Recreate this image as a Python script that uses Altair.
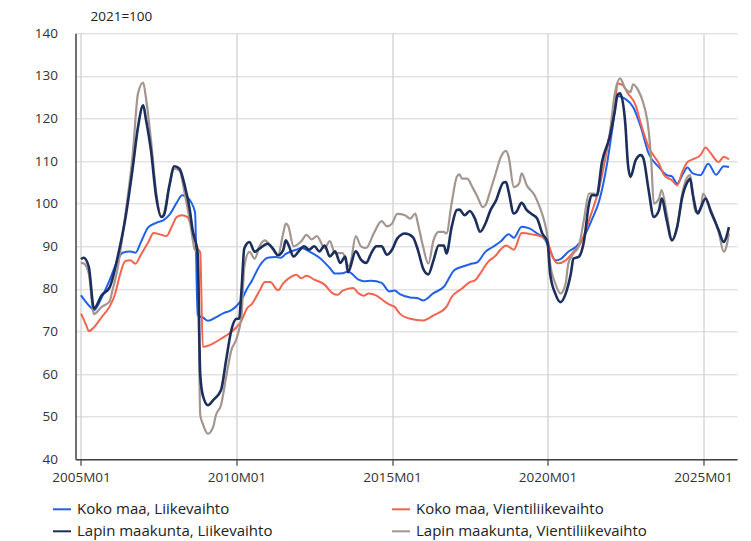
import altair as alt
import pandas as pd

# x = months since 2005M01
series_names = [
    "Koko maa, Liikevaihto",
    "Koko maa, Vientiliikevaihto",
    "Lapin maakunta, Liikevaihto",
    "Lapin maakunta, Vientiliikevaihto",
]
series_colors = ["#2160e8", "#f2644e", "#1c2e5c", "#a3958f"]

kl_month = [0, 4, 5, 8, 11, 14, 16, 19, 21, 23, 26, 29, 32, 34, 37, 39, 41, 44, 45, 47, 49, 52, 55, 58, 60,
            62, 64, 66, 69, 72, 75, 77, 79, 83, 85, 88, 92, 96, 98, 101, 103, 107, 109, 112, 116, 119, 121,
            123, 127, 130, 132, 136, 140, 144, 147, 150, 153, 156, 159, 162, 165, 167, 170, 173, 176, 179,
            181, 183, 185, 188, 191, 194, 197, 200, 203, 205, 207, 210, 213, 216, 219, 223, 226, 228, 230,
            232, 234, 236, 239, 242, 245, 248, 250]
kl_value = [78.5, 75.5, 75.0, 78.0, 82.0, 86.5, 88.5, 88.8, 88.5, 90.8, 94.5, 95.5, 96.2, 97.3, 100.3, 102.0,
            101.5, 98.0, 73.8, 73.3, 72.5, 73.3, 74.3, 75.0, 76.0, 77.5, 80.0, 82.0, 85.5, 87.3, 87.5, 87.3,
            88.2, 89.2, 89.6, 88.8, 87.3, 84.9, 83.6, 83.7, 84.1, 82.2, 81.8, 81.9, 81.4, 79.4, 79.6, 78.8,
            78.0, 77.8, 77.3, 79.0, 80.5, 84.4, 85.2, 85.8, 86.3, 88.7, 89.9, 91.2, 92.8, 92.0, 94.6, 94.2,
            93.0, 91.6, 89.0, 86.7, 87.0, 88.7, 89.9, 92.2, 96.1, 100.8, 109.5, 117.5, 125.3, 124.6, 122.7,
            118.0, 111.8, 108.6, 106.7, 106.4, 104.7, 106.7, 108.5, 107.1, 106.7, 109.4, 106.8, 108.8, 108.6]

kv_month = [0, 2, 3, 5, 8, 11, 13, 15, 17, 19, 21, 23, 26, 28, 31, 33, 35, 37, 39, 41, 43, 45, 46, 47, 51,
            54, 58, 60, 62, 64, 66, 69, 71, 73, 76, 78, 81, 83, 85, 87, 90, 94, 97, 99, 101, 105, 107, 109,
            111, 114, 117, 119, 121, 123, 127, 132, 136, 141, 143, 147, 150, 152, 154, 157, 160, 162, 164,
            167, 170, 174, 178, 180, 182, 184, 187, 190, 193, 196, 200, 204, 206, 207, 209, 211, 214, 216,
            219, 223, 225, 228, 230, 232, 234, 236, 239, 241, 243, 246, 248, 250]
kv_value = [74.2, 71.5, 70.1, 71.0, 73.4, 75.8, 78.5, 83.2, 86.5, 86.7, 85.9, 87.9, 91.0, 93.1, 92.7, 92.4,
            94.6, 96.9, 97.3, 96.9, 93.8, 89.5, 88.5, 66.4, 67.2, 68.3, 69.9, 71.0, 72.6, 75.4, 76.5, 79.7,
            81.6, 81.6, 79.7, 81.3, 82.8, 83.3, 82.5, 83.1, 82.2, 81.0, 79.0, 78.6, 79.6, 80.2, 79.0, 78.4,
            78.9, 78.4, 77.1, 76.3, 75.8, 74.2, 73.0, 72.6, 73.8, 75.8, 78.1, 80.1, 81.6, 82.0, 83.6, 86.3,
            87.8, 89.3, 90.2, 89.2, 93.1, 92.8, 92.2, 91.0, 87.5, 86.0, 86.7, 88.7, 91.0, 96.1, 103.9, 116.0,
            122.5, 128.2, 127.8, 125.9, 123.1, 118.8, 113.3, 109.4, 106.7, 105.5, 104.3, 107.5, 109.8, 110.4,
            111.4, 113.2, 111.8, 109.8, 111.0, 110.4]

ll_month = [0, 1, 3, 5, 8, 11, 12, 14, 17, 20, 22, 24, 25, 27, 29, 31, 32, 34, 36, 38, 40, 42, 43, 45, 46,
            47, 49, 51, 54, 56, 58, 60, 61, 62, 63, 65, 67, 69, 72, 74, 76, 78, 79, 80, 82, 84, 86, 88, 90,
            92, 94, 96, 98, 100, 102, 103, 106, 108, 110, 112, 114, 116, 118, 120, 122, 125, 128, 130, 132,
            134, 136, 138, 140, 141, 143, 145, 146, 148, 150, 152, 154, 156, 158, 160, 163, 164, 165, 167,
            168, 170, 172, 174, 176, 178, 180, 181, 183, 185, 187, 189, 190, 192, 194, 196, 197, 199, 201,
            204, 206, 207, 208, 210, 211, 212, 214, 216, 217, 219, 221, 223, 224, 226, 228, 230, 232, 234,
            235, 236, 238, 239, 241, 243, 245, 246, 248, 249, 250]
ll_value = [87.0, 87.3, 85.2, 75.4, 78.5, 80.3, 82.0, 87.1, 96.1, 108.6, 118.0, 123.1, 120.0, 112.5, 101.6,
            96.9, 97.3, 103.9, 108.8, 108.2, 104.3, 98.5, 94.0, 88.3, 60.0, 55.0, 52.7, 53.9, 56.2, 63.3,
            70.3, 73.0, 73.0, 80.5, 89.5, 91.0, 88.7, 89.5, 90.6, 89.5, 87.9, 89.1, 91.4, 90.4, 87.6, 88.8,
            90.0, 89.2, 90.0, 88.8, 90.2, 87.6, 88.8, 86.1, 87.6, 83.9, 88.8, 86.9, 86.1, 88.4, 90.0, 90.0,
            88.0, 89.2, 91.8, 93.0, 92.2, 89.1, 84.8, 83.4, 86.7, 90.2, 90.2, 88.3, 94.5, 98.5, 98.6, 97.3,
            98.3, 96.5, 93.4, 95.3, 98.5, 100.6, 105.0, 105.1, 102.8, 97.7, 98.1, 100.2, 98.5, 97.5, 96.5,
            93.0, 91.0, 83.6, 78.9, 76.9, 78.9, 83.6, 87.1, 87.5, 91.0, 100.0, 102.0, 102.0, 109.8, 115.7,
            121.9, 125.5, 125.9, 118.8, 109.4, 106.3, 110.2, 111.4, 110.6, 103.2, 96.9, 98.5, 101.2, 96.1,
            91.4, 94.5, 101.6, 105.1, 105.9, 102.4, 97.7, 98.9, 101.2, 98.1, 95.3, 93.8, 91.0, 92.2, 94.5]

lv_month = [0, 1, 3, 5, 8, 11, 12, 14, 17, 20, 22, 24, 25, 27, 29, 31, 32, 34, 36, 38, 40, 42, 44, 45, 46,
            47, 49, 51, 52, 54, 56, 58, 60, 62, 63, 65, 67, 69, 71, 73, 76, 78, 79, 80, 82, 85, 87, 89, 91,
            94, 96, 98, 101, 103, 104, 106, 108, 110, 113, 116, 118, 120, 122, 125, 127, 129, 130, 132, 134,
            136, 138, 140, 141, 143, 145, 146, 147, 149, 151, 153, 155, 156, 158, 160, 162, 164, 165, 167,
            169, 170, 172, 175, 177, 179, 180, 181, 183, 185, 187, 188, 190, 192, 194, 196, 198, 199, 201,
            204, 206, 208, 210, 212, 213, 215, 217, 219, 220, 221, 223, 224, 226, 228, 230, 232, 234, 235,
            237, 239, 240, 242, 245, 246, 248, 249, 250]
lv_value = [86.1, 86.0, 83.6, 74.1, 75.8, 77.0, 79.3, 84.4, 96.9, 111.8, 125.9, 128.4, 125.1, 114.9, 102.8,
            96.9, 97.7, 103.9, 108.2, 107.8, 102.4, 96.1, 89.1, 88.7, 50.5, 48.3, 46.0, 47.6, 50.3, 52.7,
            59.3, 65.6, 68.3, 74.2, 85.2, 88.7, 87.1, 90.2, 91.4, 90.2, 87.9, 93.0, 95.3, 94.7, 90.0, 91.2,
            92.7, 91.6, 92.4, 89.6, 91.2, 88.4, 88.4, 85.3, 86.1, 92.4, 90.0, 89.6, 93.1, 95.9, 94.7, 95.3,
            97.6, 97.3, 96.5, 97.7, 95.3, 89.9, 85.9, 91.4, 93.4, 93.4, 93.0, 100.1, 106.3, 106.9, 105.9,
            105.9, 103.9, 101.6, 99.2, 99.6, 103.2, 107.1, 111.0, 112.4, 111.0, 103.9, 104.7, 107.1, 104.3,
            102.0, 99.2, 95.3, 92.2, 85.9, 81.3, 78.9, 81.3, 85.9, 88.3, 89.9, 96.1, 102.4, 102.4, 101.6,
            108.6, 116.5, 126.0, 129.4, 127.0, 126.2, 128.0, 126.6, 123.5, 117.2, 110.2, 100.0, 101.2, 103.2,
            97.7, 91.4, 94.5, 102.4, 106.3, 106.7, 98.1, 98.5, 102.4, 100.0, 95.3, 93.4, 88.7, 89.9, 93.0]

x_tick_values = [0, 60, 120, 180, 240]
y_tick_values = [40, 50, 60, 70, 80, 90, 100, 110, 120, 130, 140]
index_note = "2021=100"

frames = []
for name, months, vals in zip(series_names,
                              [kl_month, kv_month, ll_month, lv_month],
                              [kl_value, kv_value, ll_value, lv_value]):
    frames.append(pd.DataFrame({"m": months, "value": vals, "series": name}))
df = pd.concat(frames, ignore_index=True)

FONT = "Open Sans"

x_enc = alt.X("m:Q", scale=alt.Scale(domain=[-2.12, 253.1], nice=False, zero=False),
              axis=alt.Axis(values=x_tick_values, title=None, grid=True,
                            labelExpr="(2005 + datum.value / 12) + 'M01'",
                            tickSize=6, tickColor="#404040", tickWidth=1.2,
                            gridColor="#c2c2c2", gridWidth=1,
                            domainColor="#404040", domainWidth=1.5,
                            labelFontSize=13.5, labelPadding=5, labelColor="#333333",
                            labelFont=FONT, labelFlush=False))
y_enc = alt.Y("value:Q", scale=alt.Scale(domain=[40, 140], nice=False, zero=False),
              axis=alt.Axis(values=y_tick_values, title=None, grid=True, ticks=False,
                            gridColor="#d4d4d4", gridWidth=1,
                            domainColor="#404040", domainWidth=1.5,
                            labelFontSize=13.5, labelPadding=18, labelColor="#333333",
                            labelFont=FONT))
color_enc = alt.Color("series:N",
                      scale=alt.Scale(domain=series_names, range=series_colors),
                      legend=alt.Legend(title=None, orient="none", legendX=-23.5, legendY=466,
                                        columns=2, direction="horizontal",
                                        symbolType="stroke", symbolSize=324, symbolStrokeWidth=2,
                                        labelFont=FONT, labelFontSize=15, labelColor="#222222",
                                        labelOffset=5, columnPadding=115, rowPadding=4,
                                        labelLimit=400, padding=0))

widths = [2.0, 2.0, 2.6, 2.2]
draw_order = [0, 1, 3, 2]
layers = []
for i in draw_order:
    name = series_names[i]
    layers.append(
        alt.Chart(df).transform_filter(alt.datum.series == name)
        .mark_line(strokeWidth=widths[i], interpolate="monotone")
        .encode(x=x_enc, y=y_enc, color=color_enc)
    )

note = alt.Chart(pd.DataFrame({"t": [index_note]})).mark_text(
    font=FONT, fontSize=13.5, color="#222222", align="left", baseline="middle"
).encode(text="t:N", x=alt.value(15), y=alt.value(-16))

chart = alt.layer(*layers, note).properties(
    width=661.5, height=426,
    autosize=alt.AutoSizeParams(type="none"),
    padding={"left": 67.5, "top": 25.3, "right": 5, "bottom": 89.7},
).configure_view(stroke=None)

chart.save("out.html", embed_options={"renderer": "svg", "actions": False})
